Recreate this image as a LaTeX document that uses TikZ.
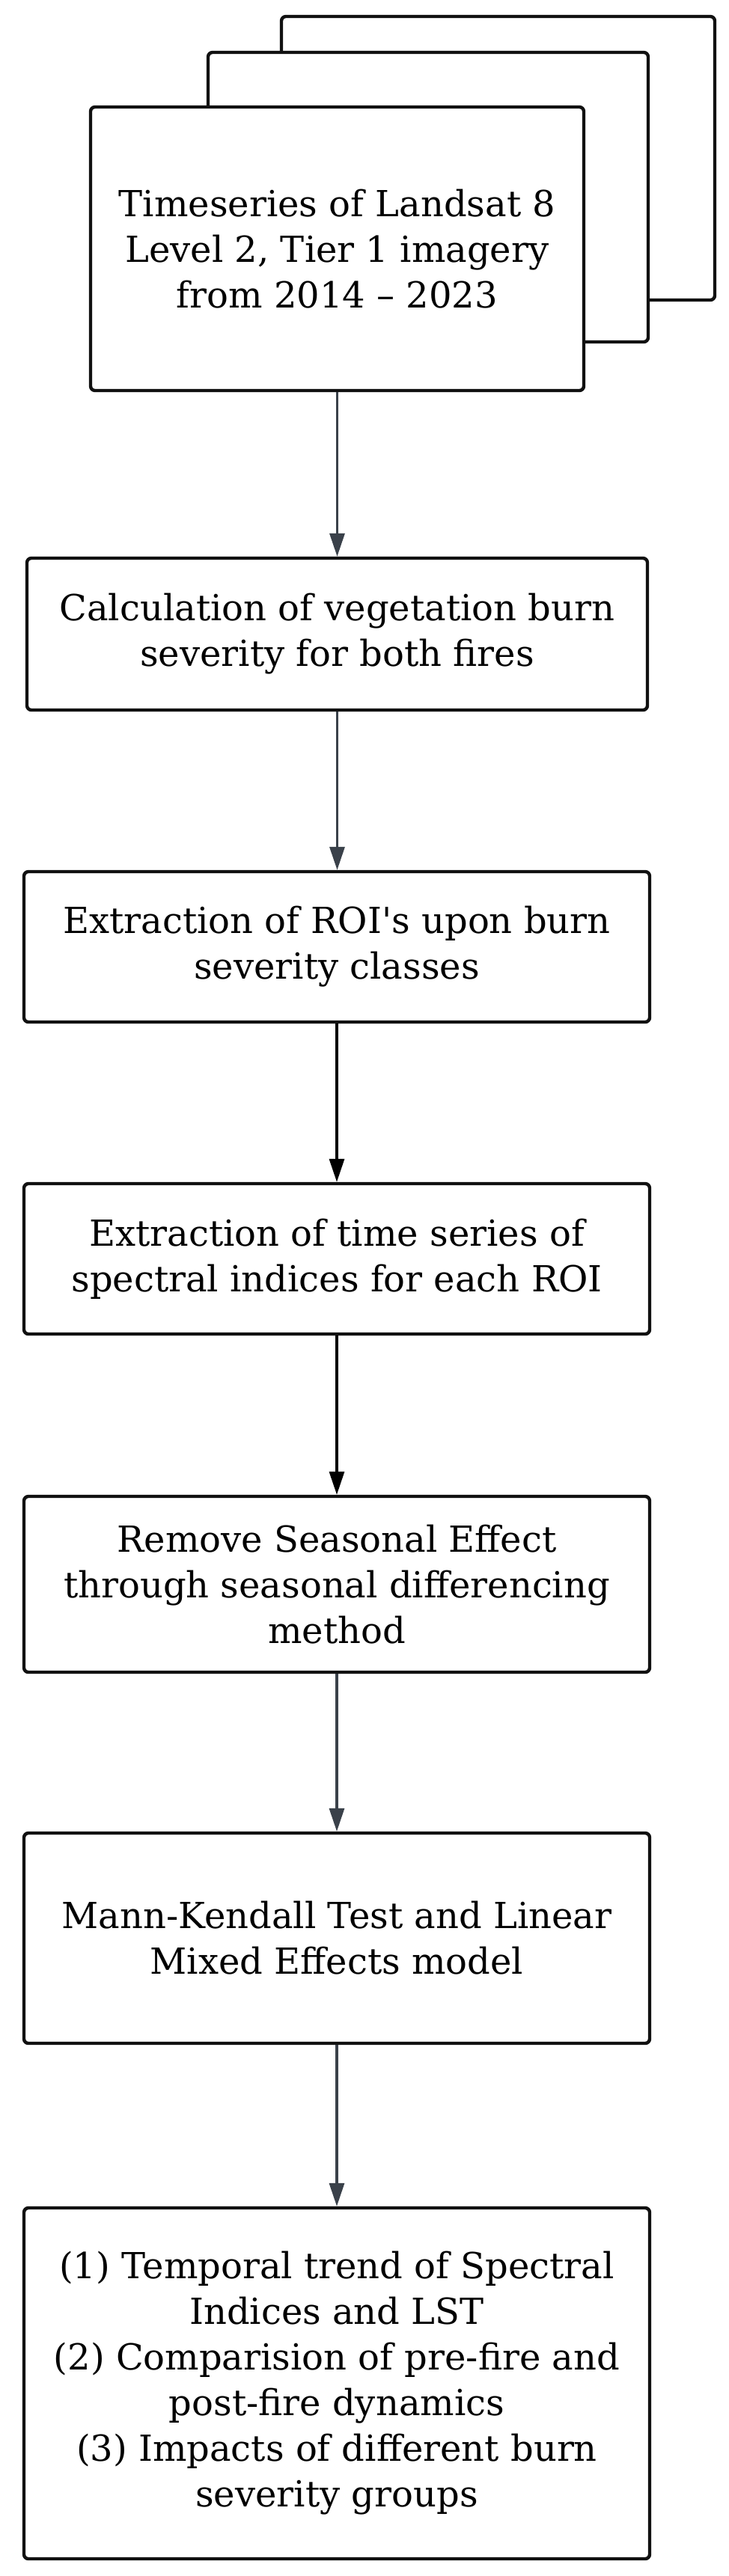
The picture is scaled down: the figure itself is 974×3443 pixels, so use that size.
\documentclass[tikz,border=0pt]{standalone}
\usepackage{fontspec}
\setmainfont{DejaVu Serif}[Ligatures=TeXOff]
\usetikzlibrary{arrows.meta}
\definecolor{arrgray}{HTML}{3A414A}
\definecolor{boxline}{HTML}{111111}
\begin{document}
\begin{tikzpicture}[x=0.5pt,y=-0.5pt,
  box/.style={draw=boxline, line width=2.2pt, rounded corners=3pt, fill=white, align=center,
    font=\fontsize{24}{30.5}\selectfont, inner sep=0pt},
  flow/.style={line width=1.6pt, -{Triangle[length=15.5pt,width=10pt]}},
]
\useasboundingbox (0,0) rectangle (974,3443);
\fill[white] (0,0) rectangle (974,3443);
\node[box, minimum width=289.5pt, minimum height=189.5pt] (back) at (665.5,211.5) {};
\node[box, minimum width=294pt, minimum height=193.5pt] (middle) at (572,263.5) {};
\node[box, minimum width=329.5pt, minimum height=189.5pt] (front) at (450.5,332.5)
  {Timeseries of Landsat 8\\Level 2, Tier 1 imagery\\from 2014 – 2023};
\node[box, minimum width=414.5pt, minimum height=101.5pt] (b2) at (450.5,847.5)
  {Calculation of vegetation burn\\severity for both fires};
\node[box, minimum width=418pt, minimum height=100.5pt] (b3) at (450,1265.5)
  {Extraction of ROI's upon burn\\severity classes};
\node[box, minimum width=418pt, minimum height=100.5pt] (b4) at (450,1682.5)
  {Extraction of time series of\\spectral indices for each ROI};
\node[box, minimum width=418pt, minimum height=117.5pt] (b5) at (450,2117.5)
  {Remove Seasonal Effect\\through seasonal differencing\\method};
\node[box, minimum width=418pt, minimum height=140.5pt] (b6) at (450,2590.5)
  {Mann-Kendall Test and Linear\\Mixed Effects model};
\node[box, minimum width=418pt, minimum height=234.5pt] (b7) at (450,3185.5)
  {(1) Temporal trend of Spectral\\Indices and LST\\(2) Comparision of pre-fire and\\post-fire dynamics\\(3) Impacts of different burn\\severity groups};
\draw[flow, arrgray] (front.south) -- (front.south |- b2.north);
\draw[flow, arrgray] (b2.south) -- (b2.south |- b3.north);
\draw[flow, black] (b3.south) -- (b4.north);
\draw[flow, black] (b4.south) -- (b5.north);
\draw[flow, arrgray] (b5.south) -- (b6.north);
\draw[flow, arrgray] (b6.south) -- (b7.north);
\end{tikzpicture}
\end{document}
